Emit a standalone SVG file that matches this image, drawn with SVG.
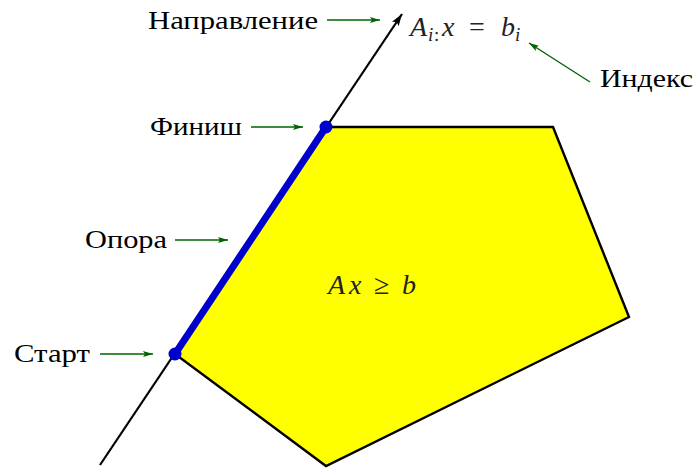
<svg xmlns="http://www.w3.org/2000/svg" width="695" height="468" viewBox="0 0 695 468">
<style>
text{font-family:'Liberation Serif','Times New Roman',serif}
.lbl{font-size:26px;fill:#000}
.m{font-size:28px;fill:#222;font-style:italic}
.s{font-size:19px}
.up{font-style:normal}
.g{stroke:#006400;stroke-width:1.4;fill:none;marker-end:url(#ga)}
</style>
<defs>
<marker id="ga" viewBox="0 0 10 6" refX="10" refY="3" markerWidth="10" markerHeight="6" markerUnits="userSpaceOnUse" orient="auto"><path d="M0,0 L10,3 L0,6 L2,3 z" fill="#006400"/></marker>
<marker id="ba" viewBox="0 0 12 8" refX="12" refY="4" markerWidth="12" markerHeight="8" markerUnits="userSpaceOnUse" orient="auto"><path d="M0,0 L12,4 L0,8 L2.5,4 z" fill="#000"/></marker>
</defs>
<g id="polytope">
<polygon points="175,354 326,127 553,127 629,317 326,466" fill="#ffff00" stroke="#000" stroke-width="2.4" stroke-linejoin="miter"/>
<text class="m" x="328" y="294">A</text>
<text class="m" x="349" y="294">x</text>
<text class="m up" x="374" y="294" font-size="30">≥</text>
<text class="m" x="402" y="294">b</text>
</g>
<g id="connectors">
<line x1="100" y1="465" x2="402" y2="14" stroke="#000" stroke-width="2.2" marker-end="url(#ba)"/>
<line x1="175" y1="354" x2="326" y2="127" stroke="#0000cc" stroke-width="7"/>
<line class="g" x1="327" y1="20" x2="380" y2="20"/>
<line class="g" x1="590" y1="82" x2="529" y2="43"/>
<line class="g" x1="251" y1="127" x2="303" y2="127"/>
<line class="g" x1="175" y1="240" x2="228" y2="240"/>
<line class="g" x1="100" y1="354" x2="153" y2="354"/>
</g>
<g id="start"><circle cx="175" cy="354" r="6.5" fill="#0000cc"/><text class="lbl" x="14" y="362" textLength="76" lengthAdjust="spacingAndGlyphs">Старт</text></g>
<g id="finish"><circle cx="326" cy="127" r="6.5" fill="#0000cc"/><text class="lbl" x="150" y="135" textLength="92" lengthAdjust="spacingAndGlyphs">Финиш</text></g>
<g id="support"><text class="lbl" x="85" y="248" textLength="82" lengthAdjust="spacingAndGlyphs">Опора</text></g>
<g id="direction"><text class="lbl" x="148" y="29" textLength="170" lengthAdjust="spacingAndGlyphs">Направление</text></g>
<g id="index"><text class="lbl" x="600" y="87" textLength="93" lengthAdjust="spacingAndGlyphs">Индекс</text></g>
<g id="hyperplane">
<text class="m" x="410" y="36">A</text>
<text class="m s" x="428" y="41">i</text>
<text class="m s up" x="434" y="41">:</text>
<text class="m" x="442" y="36">x</text>
<text class="m up" x="469" y="36" font-size="30">=</text>
<text class="m" x="501" y="36">b</text>
<text class="m s" x="515" y="41">i</text>
</g>
</svg>
